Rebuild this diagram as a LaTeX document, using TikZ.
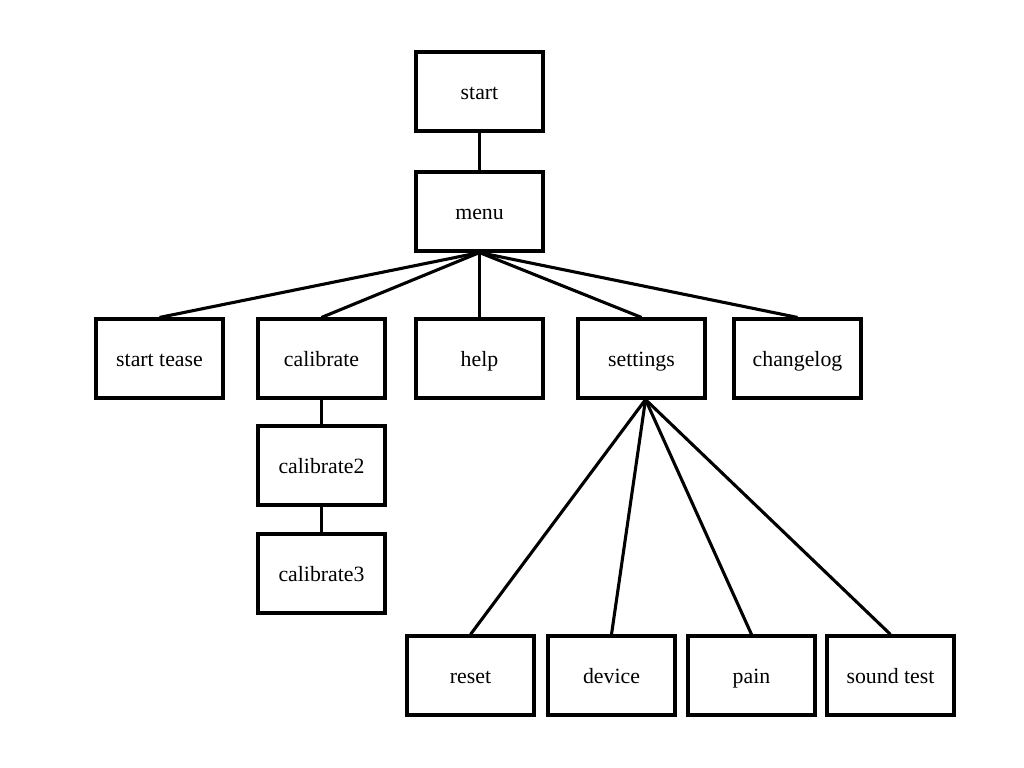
\documentclass[tikz,border=0pt]{standalone}
\usepackage{fontspec}
\setmainfont{Liberation Serif}
\usetikzlibrary{positioning}

\begin{document}
\begin{tikzpicture}[
      x=0.025cm, y=-0.025cm,
      font=\fontsize{15.5}{18}\selectfont,
      screen/.style={draw, line width=2.2pt, minimum height=1.975cm, minimum width=3.175cm,
                     inner sep=0pt, text height=11.4pt, text depth=0pt, fill=white},
      link/.style={line width=2.2pt},
    ]
    \useasboundingbox (0,0) rectangle (1024,768);

    % top of the tree
    \node[screen] (start) at (479.5,91.5) {start};
    \node[screen] (menu) at (479.5,211.5) {menu};

    % menu entries
    \node[screen] (tease) at (159.5,358.5) {start tease};
    \node[screen] (calib) at (321.5,358.5) {calibrate};
    \node[screen] (help) at (479.5,358.5) {help};
    \node[screen] (settings) at (641.5,358.5) {settings};
    \node[screen] (changelog) at (797.5,358.5) {changelog};

    % calibration steps
    \node[screen] (calibb) at (321.5,465.5) {calibrate2};
    \node[screen] (calibc) at (321.5,573.5) {calibrate3};

    % settings entries
    \node[screen] (reset) at (470.5,675.5) {reset};
    \node[screen] (device) at (611.5,675.5) {device};
    \node[screen] (pain) at (751.5,675.5) {pain};
    \node[screen] (sound) at (890.5,675.5) {sound test};

    \draw[link] (start) -- (menu);
    \foreach \n in {tease,calib,help,settings,changelog}
      \draw[link] (menu.south) -- (\n.north);
    \draw[link] (calib) -- (calibb);
    \draw[link] (calibb) -- (calibc);
    \foreach \n in {reset,device,pain,sound}
      \draw[link] ([xshift=0.1cm]settings.south) -- (\n.north);
  \end{tikzpicture}
\end{document}
